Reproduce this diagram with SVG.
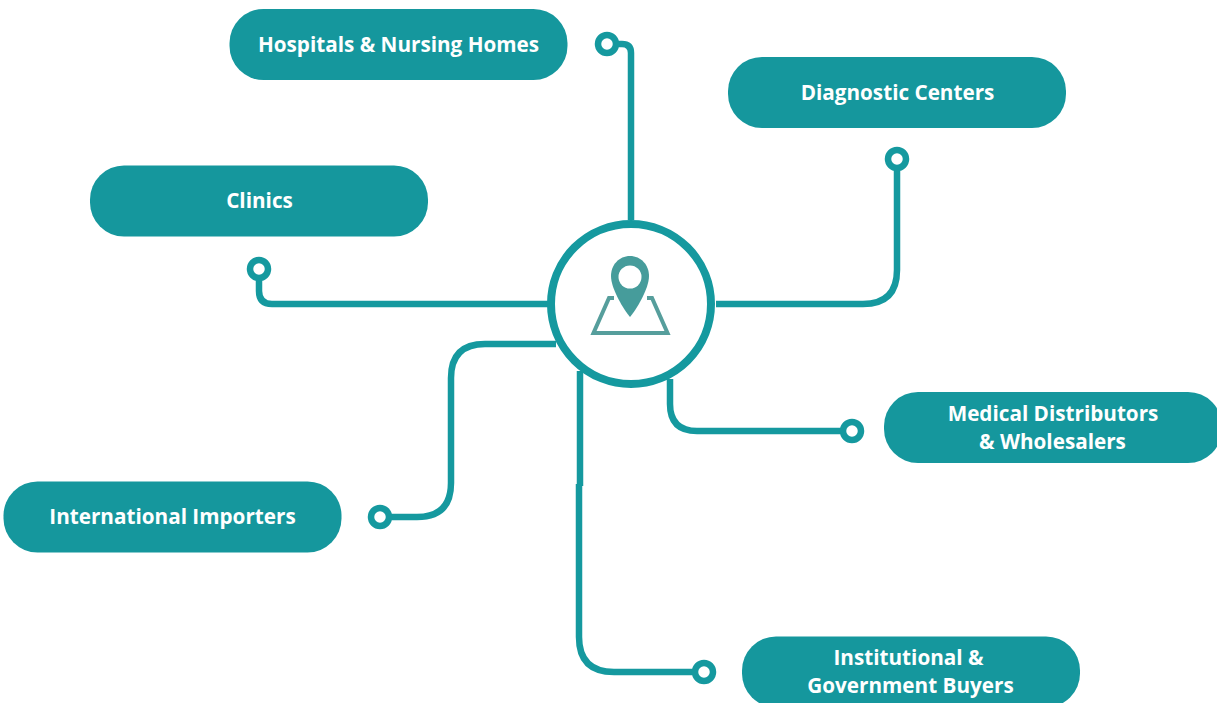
<svg xmlns="http://www.w3.org/2000/svg" width="1217" height="703" viewBox="0 0 1217 703">
<style>
.n{fill:#15979d}
.t{fill:#fff;font-family:"Open Sans","Noto Sans",sans-serif;font-weight:700;font-size:20.700px;text-anchor:middle}
.c{fill:none;stroke:#15999f;stroke-width:6.500}
.d{fill:#fff;stroke:#15999f;stroke-width:6.500}
</style>
<rect width="1217" height="703" fill="#fff"/>
<g id="connectors">
<path class="c" d="M607 44H622Q631 44 631 53V220"/>
<circle class="d" cx="607" cy="44" r="9"/>
<path class="c" d="M897 159V270Q897 304 863 304H716"/>
<circle class="d" cx="897" cy="159" r="9"/>
<path class="c" d="M259 269V291Q259 304 272 304H548"/>
<circle class="d" cx="259" cy="269" r="9"/>
<path class="c" d="M556 344H485Q451 344 451 378V483Q451 517 417 517H380"/>
<circle class="d" cx="380" cy="517" r="9"/>
<path class="c" d="M670 379V404Q670 431 697 431H852"/>
<circle class="d" cx="852" cy="431" r="9"/>
<path class="c" d="M580 371V486"/>
<path class="c" d="M579 484V637Q579 672 614 672H704"/>
<circle class="d" cx="704" cy="672" r="9"/>
</g>
<g id="hub">
<circle cx="631" cy="304" r="80" fill="#fff" stroke="#15999f" stroke-width="8"/>
<path fill="#469c9b" d="M630 256C619 256 611 265 611 276C611 289 624 310 630 317C636 310 649 289 649 276C649 265 641 256 630 256Z"/>
<circle cx="630" cy="277" r="11.500" fill="#fff"/>
<path fill="none" stroke="#569e9c" stroke-width="4" d="M614 298H609L593.500 333H667.500L652 298H647"/>
</g>
<g id="n-hospitals"><rect class="n" x="229.500" y="9" width="338" height="71" rx="34"/><text class="t" x="398.500" y="52">Hospitals &amp; Nursing Homes</text></g>
<g id="n-diagnostic"><rect class="n" x="728" y="57" width="338" height="71" rx="34"/><text class="t" x="897.500" y="100">Diagnostic Centers</text></g>
<g id="n-clinics"><rect class="n" x="90" y="165.500" width="338" height="71" rx="34"/><text class="t" x="259.500" y="208">Clinics</text></g>
<g id="n-distributors"><rect class="n" x="884" y="392" width="338" height="71" rx="34"/><text class="t" x="1053" y="421">Medical Distributors</text><text class="t" x="1052.500" y="449">&amp; Wholesalers</text></g>
<g id="n-importers"><rect class="n" x="3.500" y="481.500" width="338" height="71" rx="34"/><text class="t" x="172.500" y="524">International Importers</text></g>
<g id="n-institutional"><rect class="n" x="742" y="636.500" width="338" height="71" rx="34"/><text class="t" x="908.500" y="665">Institutional &amp;</text><text class="t" x="910.500" y="693">Government Buyers</text></g>
</svg>
